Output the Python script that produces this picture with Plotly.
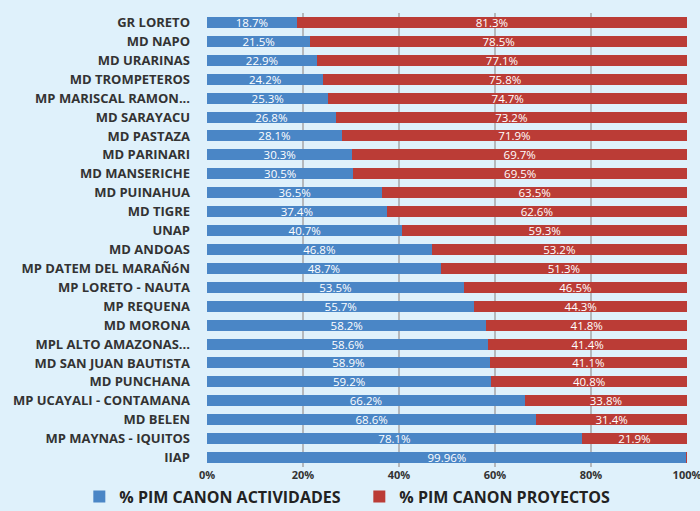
import plotly.graph_objects as go

categories = ["GR LORETO", "MD NAPO", "MD URARINAS", "MD TROMPETEROS", "MP MARISCAL RAMON...",
              "MD SARAYACU", "MD PASTAZA", "MD PARINARI", "MD MANSERICHE", "MD PUINAHUA",
              "MD TIGRE", "UNAP", "MD ANDOAS", "MP DATEM DEL MARAÑóN", "MP LORETO - NAUTA",
              "MP REQUENA", "MD MORONA", "MPL ALTO AMAZONAS...", "MD SAN JUAN BAUTISTA",
              "MD PUNCHANA", "MP UCAYALI - CONTAMANA", "MD BELEN", "MP MAYNAS - IQUITOS", "IIAP"]
actividades = [18.7, 21.5, 22.9, 24.2, 25.3, 26.8, 28.1, 30.3, 30.5, 36.5, 37.4, 40.7, 46.8,
               48.7, 53.5, 55.7, 58.2, 58.6, 58.9, 59.2, 66.2, 68.6, 78.1, 99.96]
proyectos = [81.3, 78.5, 77.1, 75.8, 74.7, 73.2, 71.9, 69.7, 69.5, 63.5, 62.6, 59.3, 53.2,
             51.3, 46.5, 44.3, 41.8, 41.4, 41.1, 40.8, 33.8, 31.4, 21.9, 0.04]
act_labels = [f"{v}%" for v in actividades]
pro_labels = [f"{v}%" for v in proyectos[:-1]] + [""]
tick_vals = [0, 20, 40, 60, 80, 100]
tick_text = ["0%", "20%", "40%", "60%", "80%", "100%"]

fig = go.Figure()
fig.add_trace(go.Bar(y=categories, x=actividades, orientation='h', name='% PIM CANON ACTIVIDADES',
                     marker=dict(color='#4a86c6', line=dict(width=0)),
                     text=act_labels, textposition='inside', insidetextanchor='middle',
                     textfont=dict(color='white', size=11.5, family='Open Sans'), textangle=0))
fig.add_trace(go.Bar(y=categories, x=proyectos, orientation='h', name='% PIM CANON PROYECTOS',
                     marker=dict(color='#bb3c36', line=dict(width=0)),
                     text=pro_labels, textposition='inside', insidetextanchor='middle',
                     textfont=dict(color='white', size=11.5, family='Open Sans'), textangle=0))

fig.update_layout(
    barmode='stack', bargap=0.42,
    width=700, height=511,
    margin=dict(l=207, r=13, t=13, b=44, autoexpand=False),
    plot_bgcolor='#dff1fb', paper_bgcolor='#dff1fb',
    font=dict(family='Open Sans', color='#333333'),
    uniformtext=dict(minsize=8, mode='show'),
    legend=dict(orientation='h', x=-0.266, xanchor='left', y=-0.028, yanchor='top',
                font=dict(size=16, family='Open Sans', weight='bold', color='#222222'),
                entrywidth=235, traceorder='normal'),
)
fig.update_xaxes(range=[0, 100], tickvals=tick_vals, ticktext=tick_text,
                 showgrid=True, gridcolor='#b4b8bc', gridwidth=2,
                 zeroline=False, showline=False, ticklabeloverflow='allow',
                 tickfont=dict(size=11, family='Open Sans', weight='bold', color='#333333'))
fig.update_yaxes(autorange='reversed', showgrid=False, ticks='', ticklen=0, ticklabelstandoff=16,
                 tickfont=dict(size=13, family='Open Sans', weight='bold', color='#333333'))

# drop the page's default body margin so the 700x511 figure fills the window
fig.write_html("out.html", config=dict(displayModeBar=False),
               post_script="document.body.style.margin='0';document.body.style.overflow='hidden';")
